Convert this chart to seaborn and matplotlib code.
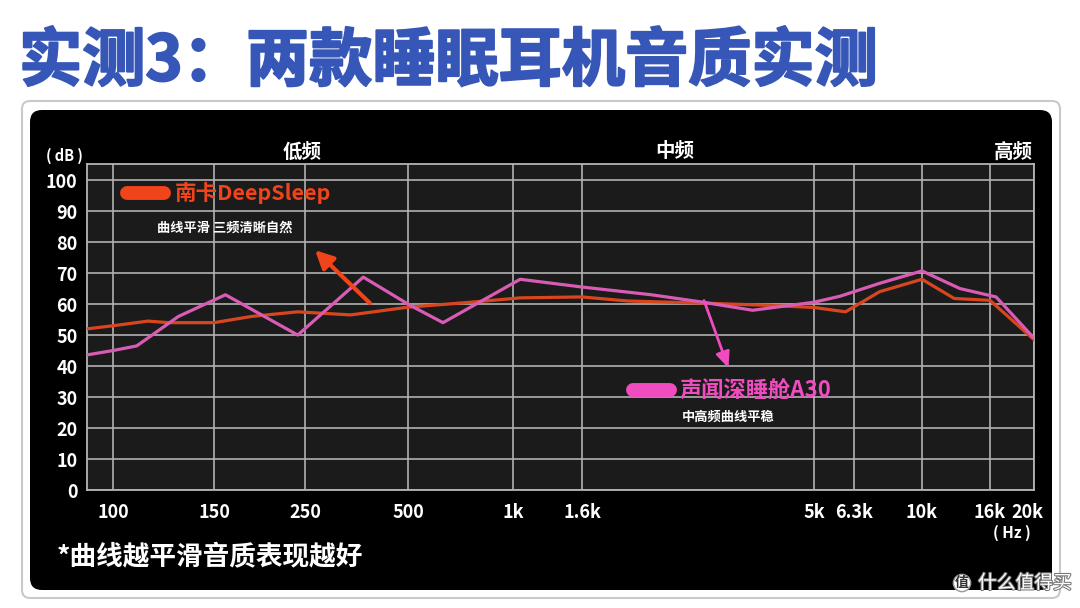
import numpy as np
import pandas as pd
import matplotlib
matplotlib.use("Agg")
import matplotlib.pyplot as plt
import seaborn as sns
from matplotlib.patches import FancyBboxPatch
from matplotlib.lines import Line2D
import matplotlib.patheffects as pe

# ---------------- data ----------------
tick_freqs = [100, 150, 250, 500, 1000, 1600, 5000, 6300, 10000, 16000, 20000]
tick_labels = ["100", "150", "250", "500", "1k", "1.6k", "5k", "6.3k", "10k", "16k", "20k"]
y_ticks = [0, 10, 20, 30, 40, 50, 60, 70, 80, 90, 100]

nanka_freq = [90, 100, 115, 125, 150, 185, 240, 340, 500, 740, 1050, 1600, 2000,
              2900, 4000, 5000, 6000, 7500, 10000, 12500, 16000, 20000]
nanka_db = [52, 53, 54.5, 54, 54, 56, 57.5, 56.5, 59, 60.5, 62, 62.3, 61,
            60.3, 59.6, 58.9, 57.5, 64, 68, 61.8, 61.2, 48.5]

shengwen_freq = [90, 100, 110, 130, 160, 240, 370, 505, 630, 1050, 1600, 2250,
                 2900, 3700, 5000, 5800, 7500, 10000, 13000, 16500, 20000]
shengwen_db = [43.6, 45, 46.5, 56, 63, 50, 68.7, 59.7, 54, 68, 65.5, 63,
               60.6, 58, 60.6, 62.5, 66.7, 70.7, 65, 62.3, 49]

name_a = "南卡DeepSleep"
name_b = "声闻深睡舱A30"
note_a = "曲线平滑 三频清晰自然"
note_b = "中高频曲线平稳"
title = "实测3：两款睡眠耳机音质实测"
footnote = "*曲线越平滑音质表现越好"
band_labels = ["低频", "中频", "高频"]

# ---------------- style ----------------
sns.set_theme(style="dark")
plt.rcParams["font.family"] = ["Noto Sans CJK SC", "DejaVu Sans"]
plt.rcParams["axes.unicode_minus"] = False

ORANGE_LINE = "#d8461f"
ORANGE_KEY = "#f0441a"
PINK_LINE = "#d95cb4"
PINK_KEY = "#f04cbf"
GRID = "#b4b4b4"
BLUE = "#3656b8"

W, H = 1080, 608
fig = plt.figure(figsize=(W / 100, H / 100), dpi=100, facecolor="white")
px = fig.dpi_scale_trans  # inches; convert pixels -> inches with /100


def P(x, y):
    return (x / 100, (H - y) / 100)


# outer thin grey frame and black panel
frame = FancyBboxPatch(P(22, 598), (1060 - 22) / 100, (598 - 101) / 100,
                       boxstyle="round,pad=0,rounding_size=0.08",
                       transform=px, facecolor="white", edgecolor="#c9c9c9",
                       linewidth=1.5, zorder=-3)
fig.patches.append(frame)
panel = FancyBboxPatch(P(30, 590), (1052 - 30) / 100, (590 - 110) / 100,
                       boxstyle="round,pad=0,rounding_size=0.12",
                       transform=px, facecolor="#000000", edgecolor="none", zorder=-2)
fig.patches.append(panel)

fig.text(19 / W, 1 - 62 / H, title, fontsize=45.5, fontweight="heavy", color=BLUE,
         ha="left", va="center",
         path_effects=[pe.withStroke(linewidth=1.5, foreground=BLUE)])

# ---------------- axes ----------------
left, right, top, bottom = 87, 1034, 164, 490
ax = fig.add_axes([left / W, 1 - bottom / H, (right - left) / W, (bottom - top) / H])
ax.set_zorder(1)
ax.set_facecolor("#1b1b1b")

# hand-drawn frequency axis: piecewise log mapping onto the reference's grid spacing
anchor_freqs = np.array([90] + tick_freqs, dtype=float)
anchor_pos = np.array([87, 113, 214, 305, 408, 513, 582, 814, 854, 922, 990, 1034], dtype=float)
anchor_log = np.log10(anchor_freqs)


def fwd(f):
    f = np.clip(np.asarray(f, dtype=float), 1e-6, None)
    return np.interp(np.log10(f), anchor_log, anchor_pos)


def inv(p):
    p = np.asarray(p, dtype=float)
    return 10 ** np.interp(p, anchor_pos, anchor_log)


ax.set_xscale("function", functions=(fwd, inv))

df = pd.concat([
    pd.DataFrame({"freq": nanka_freq, "db": nanka_db, "model": name_a}),
    pd.DataFrame({"freq": shengwen_freq, "db": shengwen_db, "model": name_b}),
])
sns.lineplot(data=df, x="freq", y="db", hue="model",
             palette={name_a: ORANGE_LINE, name_b: PINK_LINE},
             estimator=None, sort=False, legend=False, linewidth=2.3, ax=ax, zorder=3)

ax.set_xlim(90, 20000)
ax.set_ylim(0, 105.2)
ax.set_xticks(tick_freqs)
# the last label ("20k") is drawn separately, pulled just inside the panel edge
ax.set_xticklabels(tick_labels[:-1] + [""])
ax.set_yticks(y_ticks)
ax.set_xlabel("")
ax.set_ylabel("")
ax.xaxis.set_minor_locator(matplotlib.ticker.NullLocator())
ax.grid(True, color=GRID, linewidth=1.3, alpha=0.9)
ax.set_axisbelow(True)
for s in ax.spines.values():
    s.set_visible(True)
    s.set_color(GRID)
    s.set_linewidth(1.3)
ax.tick_params(axis="both", length=0, colors="white", labelsize=13)
ax.tick_params(axis="x", pad=9)
ax.tick_params(axis="y", pad=7)
for lab in ax.get_xticklabels() + ax.get_yticklabels():
    lab.set_fontweight("bold")
    lab.set_color("white")
ax.annotate(tick_labels[-1], xy=(tick_freqs[-1], 0), xycoords=("data", "axes fraction"),
            xytext=(-5, -9), textcoords="offset points", ha="center", va="top",
            color="white", fontsize=13, fontweight="bold", annotation_clip=False)

# unit and band labels
ax.text(-0.024, 1.0245, "( dB )", transform=ax.transAxes, color="white", fontsize=10.5,
        fontweight="bold", ha="center", va="center")
ax.text(0.977, -0.132, "( Hz )", transform=ax.transAxes, color="white", fontsize=11,
        fontweight="bold", ha="center", va="center")
for lab, xf in zip(band_labels, [0.2271, 0.621, 0.978]):
    ax.text(xf, 1.037, lab, transform=ax.transAxes, color="white", fontsize=14,
            fontweight="bold", ha="center", va="center")

# keys and notes
ax.add_line(Line2D([0.042, 0.081], [0.911, 0.911], transform=ax.transAxes,
                   color=ORANGE_KEY, linewidth=10, solid_capstyle="round", zorder=5))
ax.text(0.0929, 0.911, name_a, transform=ax.transAxes, color=ORANGE_KEY, fontsize=15.5,
        fontweight="bold", ha="left", va="center", zorder=5)
ax.text(0.0739, 0.804, note_a, transform=ax.transAxes, color="white", fontsize=9.5,
        fontweight="bold", ha="left", va="center", zorder=5)

ax.add_line(Line2D([0.577, 0.616], [0.307, 0.307], transform=ax.transAxes,
                   color=PINK_KEY, linewidth=10, solid_capstyle="round", zorder=5))
ax.text(0.626, 0.307, name_b, transform=ax.transAxes, color=PINK_KEY, fontsize=16,
        fontweight="bold", ha="left", va="center", zorder=5)
ax.text(0.628, 0.224, note_b, transform=ax.transAxes, color="white", fontsize=9.5,
        fontweight="bold", ha="left", va="center", zorder=5)

# arrows
ax.annotate("", xy=(264, 78), xytext=(392, 59.7),
            arrowprops=dict(arrowstyle="-|>,head_length=0.9,head_width=0.45",
                            color=ORANGE_KEY, lw=3), zorder=6)
ax.annotate("", xy=(3300, 38.5), xytext=(2900, 62),
            arrowprops=dict(arrowstyle="-|>,head_length=0.8,head_width=0.35",
                            color=PINK_KEY, lw=2), zorder=6)

# footnote
fig.text(57 / W, 1 - 558 / H, footnote, color="white", fontsize=19.2,
         fontweight="bold", ha="left", va="center")

# watermark
fig.text(962 / W, 1 - 583 / H, "值", color="#333333", fontsize=10, fontweight="bold",
         ha="center", va="center",
         bbox=dict(boxstyle="circle,pad=0.12", facecolor="white", edgecolor="#999999"))
fig.text(978 / W, 1 - 583 / H, "什么值得买", color="white", fontsize=13.5,
         ha="left", va="center",
         path_effects=[pe.withStroke(linewidth=1.5, foreground="#777777")])

fig.savefig("out.png", dpi=100, facecolor="white")
